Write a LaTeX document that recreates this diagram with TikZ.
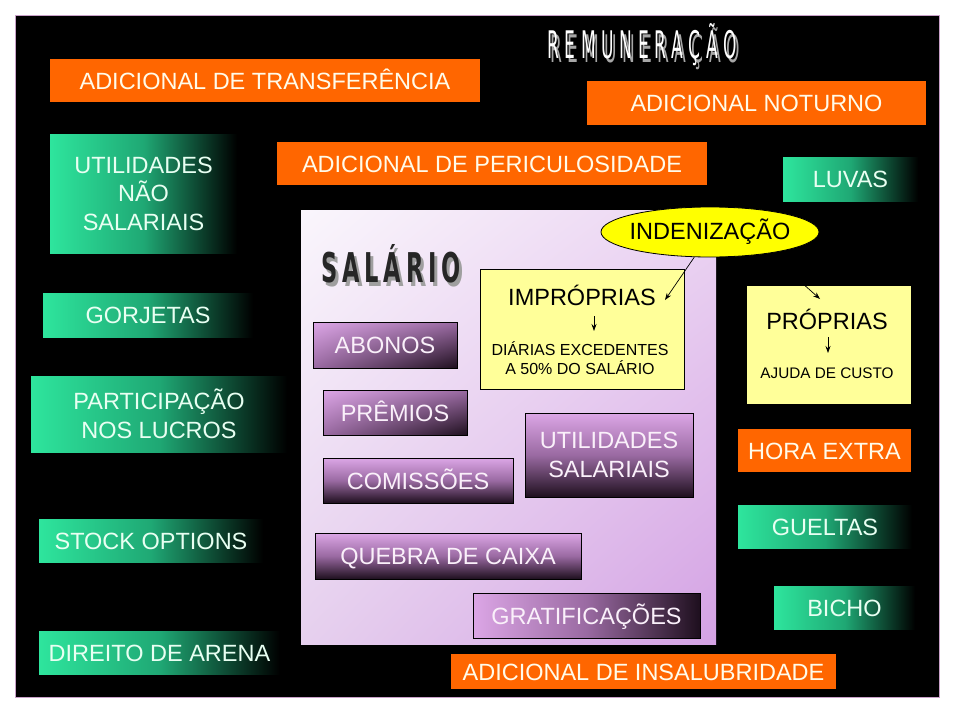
\documentclass[tikz,border=0pt]{standalone}
\usepackage{fontspec}
\setmainfont{Liberation Sans}
\newfontfamily\titlefont[FakeStretch=0.45,LetterSpace=15]{DejaVu Sans}
\newfontfamily\salfont[FakeStretch=0.55,LetterSpace=12]{DejaVu Sans}
\usetikzlibrary{shapes.geometric,arrows.meta,shadings}
\definecolor{orng}{HTML}{FF6600}
\definecolor{cream}{HTML}{FFFBEA}
\definecolor{gA}{HTML}{2EE59D}
\definecolor{gM}{HTML}{1FA874}
\definecolor{gtext}{HTML}{E8FFF2}
\definecolor{pA}{HTML}{DCA6E6}
\definecolor{pM}{HTML}{9A6AA2}
\definecolor{pB}{HTML}{1E0F1E}
\definecolor{ptext}{HTML}{FAF0FA}
\definecolor{yel}{HTML}{FFFF99}
\definecolor{ell}{HTML}{FFFF00}
\definecolor{framec}{HTML}{C8A0C8}
\definecolor{sUL}{HTML}{FAF6FC}
\definecolor{sUR}{HTML}{EBD4F2}
\definecolor{sLL}{HTML}{E6D0EE}
\definecolor{sLR}{HTML}{D4A2E4}
\begin{document}
\begin{tikzpicture}[x=1pt,y=-1pt,
  big/.style={font=\fontsize{23.5}{28.5}\selectfont},
  oneline/.style={text height=17pt,text depth=0pt},
  obox/.style={rectangle,inner sep=0pt,fill=orng,text=cream,big,oneline},
  gbase/.style={rectangle,inner sep=0pt,left color=gA,right color=black,middle color=gM,text=gtext,big},
  gbox/.style={gbase,oneline},
  pbase/.style={rectangle,inner sep=0pt,draw=black,line width=0.8pt,top color=pA,bottom color=pB,middle color=pM,text=ptext,big},
  pbox/.style={pbase,oneline},
  pdiag/.style={rectangle,inner sep=0pt,draw=black,line width=0.8pt,upper left=pA,upper right=pM,lower left=pM,lower right=pB,text=ptext,big,oneline},
  phor/.style={rectangle,inner sep=0pt,draw=black,line width=0.8pt,left color=pA,right color=pB,middle color=pM,text=ptext,big,oneline},
  ybox/.style={rectangle,inner sep=0pt,draw=black,line width=0.8pt,fill=yel},
  ytext/.style={inner sep=0pt,text=black,big,oneline},
  ysmall/.style={inner sep=0pt,text=black,font=\fontsize{16}{19}\selectfont},
  arr/.style={-{Stealth[length=7pt,width=5pt]},line width=0.7pt,black}
]
\useasboundingbox (0,0) rectangle (960,720);
\fill[white] (0,0) rectangle (960,720);
\draw[fill=black,draw=framec,line width=1pt] (15,15) rectangle (939,697);

% title
\node[inner sep=0pt,text=gray!70,font=\titlefont\fontsize{38}{40}\selectfont,text height=28pt,text depth=0pt] (titsh) at (645,48) {REMUNERAÇÃO};
\node[inner sep=0pt,text=white,font=\titlefont\fontsize{38}{40}\selectfont,text height=28pt,text depth=0pt] (title) at (642,44) {REMUNERAÇÃO};

% orange boxes
\node[obox,minimum width=430pt,minimum height=43pt] (transf) at (265,80.5) {ADICIONAL DE TRANSFERÊNCIA};
\node[obox,minimum width=339pt,minimum height=44pt] (noturno) at (756.5,103) {ADICIONAL NOTURNO};
\node[obox,minimum width=430pt,minimum height=43pt] (peric) at (492,163.5) {ADICIONAL DE PERICULOSIDADE};
\node[obox,minimum width=173pt,minimum height=43pt] (hora) at (824.5,450.5) {HORA EXTRA};
\node[obox,minimum width=385pt,minimum height=35pt] (insal) at (643.5,671.5) {ADICIONAL DE INSALUBRIDADE};

% green boxes
\node[gbase,minimum width=187pt,minimum height=119pt,align=center] (utilns) at (143.5,193.5) {UTILIDADES\\NÃO\\SALARIAIS};
\node[gbox,minimum width=210pt,minimum height=44pt] (gorj) at (148,315) {GORJETAS};
\node[gbase,minimum width=256pt,minimum height=76pt,align=center] (part) at (159,414) {PARTICIPAÇÃO\\NOS LUCROS};
\node[gbox,minimum width=224pt,minimum height=43pt] (stock) at (151,540.5) {STOCK OPTIONS};
\node[gbox,minimum width=241pt,minimum height=43pt] (arena) at (159.5,652.5) {DIREITO DE ARENA};
\node[gbox,minimum width=135pt,minimum height=44pt] (luvas) at (850.5,179) {LUVAS};
\node[gbox,minimum width=174pt,minimum height=43pt] (gueltas) at (825,526.5) {GUELTAS};
\node[gbox,minimum width=141pt,minimum height=43pt] (bicho) at (844.5,607.5) {BICHO};

% salario panel
\node[rectangle,inner sep=0pt,minimum width=415pt,minimum height=434pt,
  upper left=sUL,upper right=sUR,lower left=sLL,lower right=sLR] (salario) at (508.5,427) {};
\node[inner sep=0pt,text=gray!75,font=\salfont\bfseries\fontsize{41}{44}\selectfont,text height=30pt,text depth=0pt] (salsh) at (394,271) {SALÁRIO};
\node[inner sep=0pt,text=black!85,font=\salfont\bfseries\fontsize{41}{44}\selectfont,text height=30pt,text depth=0pt] (saltit) at (391,267) {SALÁRIO};

% purple boxes
\node[pdiag,minimum width=144pt,minimum height=46pt] (abonos) at (385,345) {ABONOS};
\node[pdiag,minimum width=144pt,minimum height=45pt] (premios) at (395,412.5) {PRÊMIOS};
\node[pbox,minimum width=190pt,minimum height=45pt] (comiss) at (418,480.5) {COMISSÕES};
\node[pbase,minimum width=168pt,minimum height=84pt,align=center] (utilsal) at (609,455) {UTILIDADES\\SALARIAIS};
\node[pbox,minimum width=266pt,minimum height=46pt] (quebra) at (448,556) {QUEBRA DE CAIXA};
\node[phor,minimum width=227pt,minimum height=45pt] (gratif) at (586.5,615.5) {GRATIFICAÇÕES};

% yellow boxes
\node[ybox,minimum width=204pt,minimum height=120pt] (improp) at (582,329) {};
\node[ytext] (improptit) at (582,297) {IMPRÓPRIAS};
\node[ysmall,align=center] (diarias) at (580,358.5) {DIÁRIAS EXCEDENTES\\A 50\% DO SALÁRIO};
\node[ybox,minimum width=165pt,minimum height=119pt] (prop) at (828.5,344.5) {};
\node[ytext] (proptit) at (827,321) {PRÓPRIAS};
\node[ysmall,font=\fontsize{15.3}{17}\selectfont] (ajuda) at (827,373) {AJUDA DE CUSTO};

% ellipse
\node[ellipse,draw=black,line width=0.8pt,fill=ell,inner sep=0pt,minimum width=218pt,minimum height=50pt] (indeniz) at (710,232) {};
\node[inner sep=0pt,text=black,big,oneline] (indtext) at (710,231) {INDENIZAÇÃO};

% arrows
\coordinate (impin) at (665,300);
\coordinate (propin) at (820,299);
\draw[arr] (indeniz.238) -- (impin);
\draw[arr] (indeniz.-20) -- (propin);
\coordinate (a1) at (594,316);
\coordinate (a2) at (594,331);
\draw[arr] (a1) -- (a2);
\coordinate (b1) at (828,337);
\coordinate (b2) at (828,353);
\draw[arr] (b1) -- (b2);
\end{tikzpicture}
\end{document}
